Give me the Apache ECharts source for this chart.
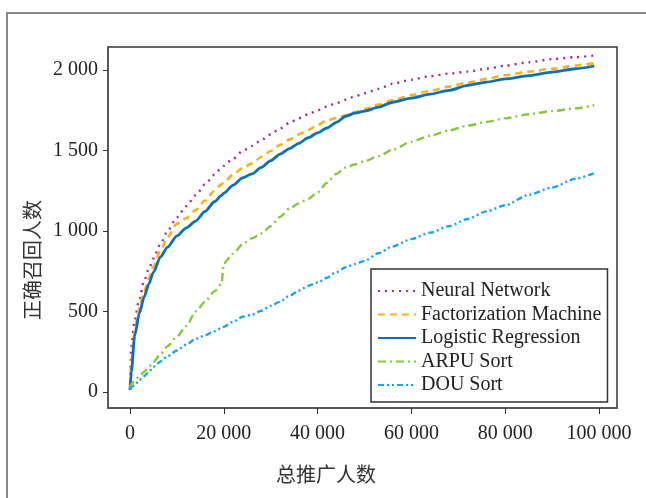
<!DOCTYPE html>
<html>
<head>
<meta charset="utf-8">
<script src="https://cdn.jsdelivr.net/npm/echarts@6/dist/echarts.min.js"></script>
<style>
  html, body { margin: 0; padding: 0; background: #fff; }
  #chart { width: 646px; height: 498px; }
</style>
</head>
<body>
<div id="chart"></div>
<script>
// 总推广人数 (x) sample points shared by all curves
var promoted = [0, 300, 1000, 2000, 3000, 4000, 5000, 6500, 8000, 10000, 12000, 14000, 16000, 18000, 19500, 20000,
  22000, 24000, 26000, 28000, 30000, 32000, 34000, 36000, 38000, 40000, 42000, 44000, 46000, 48000, 50000,
  53000, 56000, 60000, 64000, 68000, 72000, 76000, 80000, 85000, 90000, 95000, 99000];

// 正确召回人数 for each method
var neuralNetwork = [20, 290, 450, 580, 690, 765, 830, 920, 1000, 1085, 1155, 1222, 1290, 1350, 1392, 1405,
  1450, 1497, 1528, 1566, 1600, 1637, 1672, 1700, 1725, 1750, 1773, 1795, 1815, 1837, 1856,
  1883, 1915, 1940, 1962, 1978, 1990, 2008, 2027, 2048, 2068, 2080, 2090];
var factorization = [40, 190, 380, 525, 625, 705, 780, 880, 960, 1045, 1080, 1130, 1190, 1250, 1290, 1302,
  1352, 1390, 1420, 1460, 1497, 1535, 1568, 1600, 1628, 1658, 1688, 1702, 1718, 1738, 1758,
  1785, 1812, 1845, 1871, 1897, 1922, 1945, 1968, 1990, 2008, 2028, 2042];
var logistic = [12, 130, 350, 490, 590, 670, 745, 840, 900, 970, 1020, 1062, 1122, 1182, 1222, 1235,
  1285, 1330, 1355, 1395, 1437, 1478, 1512, 1545, 1580, 1610, 1640, 1675, 1713, 1733, 1745,
  1770, 1800, 1825, 1850, 1874, 1905, 1925, 1945, 1965, 1987, 2008, 2025];
var arpuSort = [25, 50, 72, 100, 125, 155, 188, 235, 285, 345, 410, 500, 560, 625, 672, 800,
  860, 918, 955, 985, 1030, 1088, 1140, 1172, 1200, 1240, 1300, 1355, 1395, 1415, 1433,
  1465, 1505, 1555, 1592, 1625, 1655, 1678, 1700, 1725, 1745, 1762, 1782];
var douSort = [15, 30, 43, 75, 98, 125, 157, 190, 222, 258, 295, 330, 352, 378, 398, 405,
  437, 468, 480, 505, 535, 562, 598, 630, 660, 680, 710, 745, 775, 795, 815,
  862, 905, 950, 990, 1030, 1075, 1122, 1160, 1225, 1270, 1325, 1360];

var xTicks = [0, 20000, 40000, 60000, 80000, 100000];
var yTicks = [0, 500, 1000, 1500, 2000];

function pairs(ys) {
  return promoted.map(function (x, i) { return [x, ys[i]]; });
}
function fmt(v) {
  if (v < 1000) return String(v);
  var k = Math.floor(v / 1000), r = String(v % 1000);
  while (r.length < 3) r = '0' + r;
  return k + ' ' + r;
}

var serif = '"Liberation Serif", "DejaVu Serif", serif';
var chart = echarts.init(document.getElementById('chart'));

function line(name, ys, color, type, width) {
  return {
    name: name,
    type: 'line',
    data: pairs(ys),
    showSymbol: false,
    symbol: 'none',
    smooth: 0.25,
    smoothMonotone: 'x',
    lineStyle: { color: color, width: width, type: type },
    itemStyle: { color: color },
    z: 3
  };
}

var option = {
  backgroundColor: '#fff',
  animation: false,
  grid: {
    left: 108, top: 47, right: 29, bottom: 90,
    show: true, borderColor: '#333', borderWidth: 1.5, backgroundColor: '#fff'
  },
  xAxis: {
    type: 'value',
    min: -4691, max: 103838,
    axisLine: { show: true, onZero: false, lineStyle: { color: '#555', width: 1.5 } },
    axisTick: { show: true, customValues: xTicks, length: 6, inside: false, lineStyle: { color: '#333' } },
    axisLabel: { customValues: xTicks, formatter: fmt, margin: 16, color: '#222', fontFamily: serif, fontSize: 20 },
    splitLine: { show: false }
  },
  yAxis: {
    type: 'value',
    min: -99, max: 2143,
    axisLine: { show: true, onZero: false, lineStyle: { color: '#555', width: 1.5 } },
    axisTick: { show: true, customValues: yTicks, length: 5, inside: false, lineStyle: { color: '#333' } },
    axisLabel: { customValues: yTicks, formatter: fmt, margin: 10, color: '#222', fontFamily: serif, fontSize: 20 },
    splitLine: { show: false }
  },
  legend: {
    orient: 'vertical',
    left: 371, top: 269,
    padding: [12, 6, 7, 6],
    itemGap: 3.5,
    itemWidth: 38, itemHeight: 14,
    backgroundColor: '#fff',
    borderColor: '#333', borderWidth: 1.5,
    itemStyle: { opacity: 0 },
    textStyle: { fontFamily: serif, fontSize: 20, color: '#222', lineHeight: 20 },
    data: ['Neural Network', 'Factorization Machine', 'Logistic Regression', 'ARPU Sort', 'DOU Sort']
  },
  graphic: [
    { type: 'rect', shape: { x: 7, y: 13, width: 700, height: 600 }, style: { fill: 'none', stroke: '#888', lineWidth: 2 }, silent: true },
    { type: 'text', x: 326, y: 474, style: { text: '总推广人数', font: '20px "Noto Sans CJK SC"', fill: '#333', textAlign: 'center', textVerticalAlign: 'middle' } },
    { type: 'text', x: 32, y: 260, rotation: Math.PI / 2, style: { text: '正确召回人数', font: '20px "Noto Sans CJK SC"', fill: '#333', textAlign: 'center', textVerticalAlign: 'middle' } }
  ],
  series: [
    line('Neural Network', neuralNetwork, '#9E2E9E', [2, 5], 2.4),
    line('Factorization Machine', factorization, '#F8B21B', [7, 5], 2.6),
    line('Logistic Regression', logistic, '#0C6FB8', 'solid', 2.8),
    line('ARPU Sort', arpuSort, '#8BC441', [8, 4, 2, 4], 2.4),
    line('DOU Sort', douSort, '#1BA6E6', [6, 3, 2, 3, 2, 3], 2.4)
  ]
};
chart.setOption(option);
</script>
</body>
</html>
